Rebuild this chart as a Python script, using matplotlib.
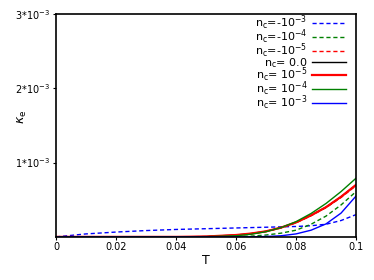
import numpy as np
import matplotlib
matplotlib.use("Agg")
import matplotlib.pyplot as plt

# temperature grid
T = [0, 0.01, 0.02, 0.03, 0.04, 0.05, 0.06, 0.065, 0.07, 0.075, 0.08, 0.085, 0.09, 0.095, 0.1]

# kappa_e for each n_c
k_m3 = [0, 4.0e-5, 6.5e-5, 8.5e-5, 1.0e-4, 1.1e-4, 1.2e-4, 1.25e-4, 1.3e-4, 1.35e-4, 1.4e-4, 1.5e-4, 1.7e-4, 2.2e-4, 3.0e-4]
k_m4 = [0, 0, 0, 0, 0, 1e-6, 5e-6, 1.0e-5, 2.5e-5, 5.0e-5, 9.0e-5, 1.7e-4, 2.8e-4, 4.3e-4, 6.1e-4]
k_m5 = [0, 0, 0, 0, 0, 4e-6, 2.2e-5, 4.2e-5, 7.2e-5, 1.2e-4, 1.9e-4, 2.85e-4, 3.95e-4, 5.3e-4, 6.9e-4]
k_0 = [0, 0, 0, 0, 0, 5e-6, 2.5e-5, 4.5e-5, 7.5e-5, 1.25e-4, 1.95e-4, 2.9e-4, 4.0e-4, 5.4e-4, 7.0e-4]
k_p5 = [0, 0, 0, 0, 0, 5e-6, 2.5e-5, 4.5e-5, 7.5e-5, 1.25e-4, 1.95e-4, 2.9e-4, 4.0e-4, 5.4e-4, 7.0e-4]
k_p4 = [0, 0, 0, 0, 0, 3e-6, 1.5e-5, 3.5e-5, 7.0e-5, 1.25e-4, 2.05e-4, 3.15e-4, 4.5e-4, 6.1e-4, 7.9e-4]
k_p3 = [0, 0, 0, 0, 0, 0, 0, 1e-6, 5e-6, 1.5e-5, 4.0e-5, 9.0e-5, 1.75e-4, 3.2e-4, 5.5e-4]

labels = [
    r"n$_\mathregular{c}$=-10$^\mathregular{-3}$",
    r"n$_\mathregular{c}$=-10$^\mathregular{-4}$",
    r"n$_\mathregular{c}$=-10$^\mathregular{-5}$",
    r"n$_\mathregular{c}$= 0.0",
    r"n$_\mathregular{c}$= 10$^\mathregular{-5}$",
    r"n$_\mathregular{c}$= 10$^\mathregular{-4}$",
    r"n$_\mathregular{c}$= 10$^\mathregular{-3}$",
]
yticks = [1e-3, 2e-3, 3e-3]
ytick_labels = [r"1*10$^\mathregular{-3}$", r"2*10$^\mathregular{-3}$", r"3*10$^\mathregular{-3}$"]
xticks = [0, 0.02, 0.04, 0.06, 0.08, 0.1]
xtick_labels = ["0", "0.02", "0.04", "0.06", "0.08", "0.1"]

fig = plt.figure(figsize=(3.74, 2.8), dpi=100)
ax = fig.add_axes([0.150, 0.154, 0.802, 0.796])

dash = (3, 2)
ax.plot(T, k_m3, color="blue", lw=1, dashes=dash, label=labels[0])
ax.plot(T, k_m4, color="green", lw=1, dashes=dash, label=labels[1])
ax.plot(T, k_m5, color="red", lw=1, dashes=dash, label=labels[2])
ax.plot(T, k_0, color="black", lw=1, label=labels[3])
ax.plot(T, k_p5, color="red", lw=1.6, label=labels[4])
ax.plot(T, k_p4, color="green", lw=1, label=labels[5])
ax.plot(T, k_p3, color="blue", lw=1, label=labels[6])

ax.set_xlim(0, 0.1)
ax.set_ylim(0, 3e-3)
ax.set_xticks(xticks)
ax.set_xticklabels(xtick_labels, fontsize=7)
ax.set_yticks(yticks)
ax.set_yticklabels(ytick_labels, fontsize=7)
ax.tick_params(length=2, width=0.8, pad=2)
for s in ax.spines.values():
    s.set_linewidth(1.2)

ax.set_xlabel("T", fontsize=9, labelpad=1)
ax.set_ylabel(r"$\kappa_\mathregular{e}$", fontsize=9)
ax.yaxis.set_label_coords(-0.092, 0.54)

ax.legend(loc="upper right", bbox_to_anchor=(0.99, 1.035), frameon=False,
          markerfirst=False, fontsize=8, handlelength=3, labelspacing=-0.38,
          borderaxespad=0.25, handletextpad=0.45)

fig.savefig("out.png", dpi=100)
